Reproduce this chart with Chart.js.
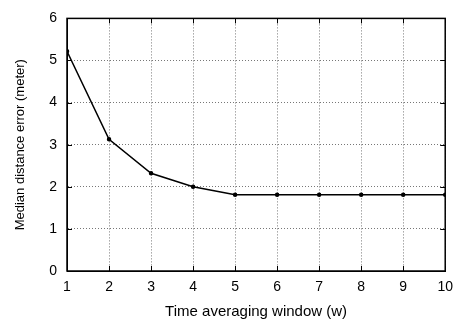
<!DOCTYPE html>
<html>
<head>
<meta charset="utf-8">
<script src="https://cdn.jsdelivr.net/npm/chart.js@4"></script>
<style>
html,body{margin:0;padding:0;background:#fff;}
#wrap{width:461px;height:321px;position:relative;}
</style>
</head>
<body>
<div id="wrap"><canvas id="c" width="461" height="321"></canvas></div>
<script>
const windows = [1, 2, 3, 4, 5, 6, 7, 8, 9, 10];
const medianError = [5.22, 3.13, 2.32, 2.0, 1.81, 1.81, 1.81, 1.81, 1.81, 1.81];
const xTitle = 'Time averaging window (w)';
const yTitle = 'Median distance error (meter)';

const FONT = 'Liberation Sans, Arial, sans-serif';

const framePlugin = {
  id: 'frame',
  afterDatasetsDraw(chart) {
    const {ctx, chartArea: a, scales} = chart;
    ctx.save();
    ctx.strokeStyle = '#000';
    ctx.lineWidth = 1;
    const tl = 5;
    ctx.beginPath();
    scales.x.ticks.forEach(t => {
      const px = Math.round(scales.x.getPixelForValue(t.value)) + 0.5;
      ctx.moveTo(px, a.bottom); ctx.lineTo(px, a.bottom - tl);
      ctx.moveTo(px, a.top); ctx.lineTo(px, a.top + tl);
    });
    scales.y.ticks.forEach(t => {
      const py = Math.round(scales.y.getPixelForValue(t.value)) + 0.5;
      ctx.moveTo(a.left, py); ctx.lineTo(a.left + tl, py);
      ctx.moveTo(a.right, py); ctx.lineTo(a.right - tl, py);
    });
    ctx.stroke();
    ctx.lineWidth = 1.5;
    ctx.strokeRect(a.left, a.top, a.right - a.left, a.bottom - a.top);
    ctx.restore();
  }
};

new Chart(document.getElementById('c'), {
  type: 'line',
  data: {
    datasets: [{
      data: windows.map((w, i) => ({x: w, y: medianError[i]})),
      borderColor: '#000',
      backgroundColor: '#000',
      borderWidth: 1.5,
      pointRadius: 1.5,
      pointHoverRadius: 1.5,
      tension: 0,
      fill: false
    }]
  },
  plugins: [framePlugin],
  options: {
    responsive: false,
    animation: false,
    events: [],
    layout: {padding: {left: 0, right: 13, top: 14, bottom: 0}},
    plugins: {legend: {display: false}, tooltip: {enabled: false}},
    scales: {
      x: {
        type: 'linear',
        min: 1, max: 10,
        afterFit(s) { s.height = 50; },
        ticks: {stepSize: 1, color: '#000', font: {family: FONT, size: 14}, padding: 8, maxRotation: 0},
        grid: {color: '#777', lineWidth: 1, drawTicks: false, tickLength: 0},
        border: {display: true, color: '#000', dash: [1, 2]},
        title: {display: true, text: xTitle, color: '#000', font: {family: FONT, size: 15}, padding: {top: 4, bottom: 0}}
      },
      y: {
        min: 0, max: 6,
        afterFit(s) { s.width = 67; },
        ticks: {stepSize: 1, color: '#000', font: {family: FONT, size: 14}, padding: 10},
        grid: {color: '#777', lineWidth: 1, drawTicks: false, tickLength: 0},
        border: {display: true, color: '#000', dash: [1, 2]},
        title: {display: true, text: yTitle, color: '#000', font: {family: FONT, size: 13}, padding: {top: 13, bottom: 0}}
      }
    }
  }
});
</script>
</body>
</html>
